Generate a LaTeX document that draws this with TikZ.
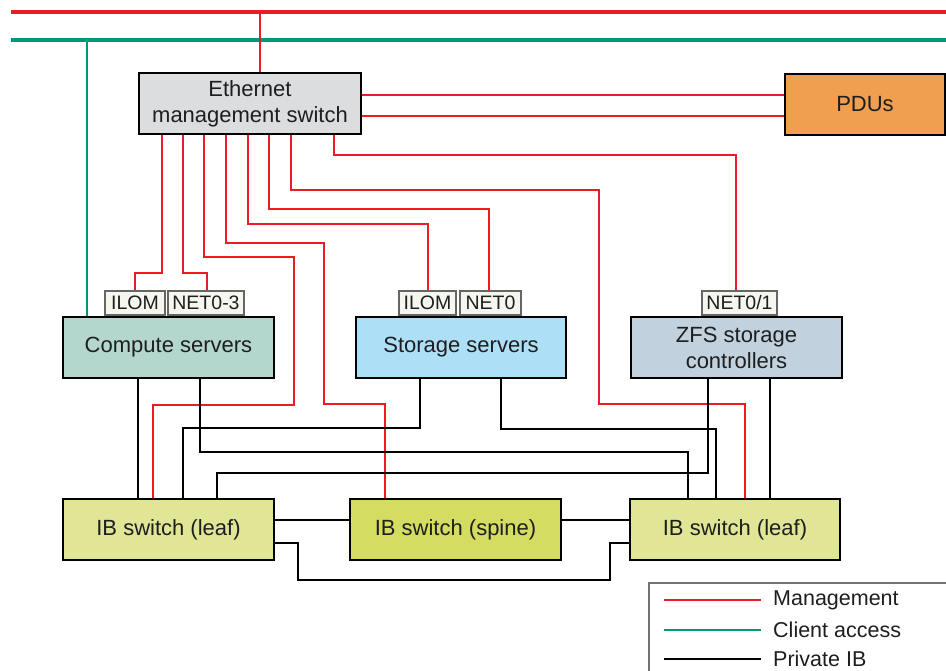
\documentclass[tikz,border=0pt]{standalone}
\usepackage{fontspec}
\setmainfont{Liberation Sans}
\usetikzlibrary{backgrounds}
\definecolor{mred}{HTML}{ED1C24}
\definecolor{mgreen}{HTML}{00967A}
\definecolor{ethfill}{HTML}{DCDDDF}
\definecolor{pdufill}{HTML}{F09E50}
\definecolor{compfill}{HTML}{B3D7CD}
\definecolor{storfill}{HTML}{ADDFF6}
\definecolor{zfsfill}{HTML}{C1D1DE}
\definecolor{leaffill}{HTML}{E0E696}
\definecolor{spinefill}{HTML}{D4DC62}
\definecolor{portfill}{HTML}{F5F7EF}
\definecolor{txt}{HTML}{1E1E1E}
\tikzset{
  box/.style={draw=black, line width=2.8pt, inner sep=0pt, align=center,
    text=txt, font=\fontsize{22}{26}\selectfont, minimum height=61pt},
  port/.style={draw=black!60, line width=1.1pt, fill=portfill, inner sep=0pt,
    text=txt, font=\fontsize{19.5}{22}\selectfont, minimum height=24pt},
  mgmt/.style={draw=mred, line width=2.6pt},
  client/.style={draw=mgreen, line width=2.4pt},
  ib/.style={draw=black, line width=2.6pt},
  bus/.style={line width=4.2pt},
  legtext/.style={anchor=west, text=txt, font=\fontsize{21.5}{24}\selectfont, inner sep=0pt}
}
\begin{document}
\begin{tikzpicture}[x=1pt,y=-1pt]
\path[use as bounding box, clip] (0,0) rectangle (946,670);
% nodes
\node[box, fill=ethfill, minimum width=222pt] (eth) at (250,103.5) {Ethernet\\management switch};
\node[box, fill=pdufill, minimum width=160pt] (pdu) at (865,104.5) {PDUs};
\node[box, fill=compfill, minimum width=211pt] (comp) at (168.5,347.5) {Compute servers};
\node[box, fill=storfill, minimum width=210pt] (stor) at (461,347.5) {Storage servers};
\node[box, fill=zfsfill, minimum width=211pt] (zfs) at (736.5,347.5) {ZFS storage\\controllers};
\node[box, fill=leaffill, minimum width=211pt] (lleaf) at (168.5,529.5) {IB switch (leaf)};
\node[box, fill=spinefill, minimum width=211pt] (spine) at (455.5,529.5) {IB switch (spine)};
\node[box, fill=leaffill, minimum width=210pt] (rleaf) at (735,529.5) {IB switch (leaf)};
% ports
\node[port, minimum width=60pt, anchor=south] (cilom) at (135,315.5) {ILOM};
\node[port, minimum width=76pt, anchor=south] (cnet) at (206,315.5) {NET0-3};
\node[port, minimum width=57pt, anchor=south] (silom) at (427.5,315.5) {ILOM};
\node[port, minimum width=61pt, anchor=south] (snet) at (490.5,315.5) {NET0};
\node[port, minimum width=75pt, anchor=south] (zport) at (739.5,315.5) {NET0/1};
% buses
\coordinate (redL) at (11,12);
\coordinate (redR) at (950,12);
\coordinate (grnL) at (11,40);
\coordinate (grnR) at (950,40);
\coordinate (redtap) at (260,12);
\coordinate (grntap) at (87,40);
\begin{scope}[on background layer]
\draw[mgmt, bus] (redL) -- (redR);
\draw[client, bus] (grnL) -- (grnR);
\draw[mgmt] (redtap) -- (eth.north -| redtap);
\draw[client] (grntap) -- (comp.north -| grntap);
% management
\draw[mgmt] (eth.east |- 0,95) -- (pdu.west |- 0,95);
\draw[mgmt] (eth.east |- 0,116) -- (pdu.west |- 0,116);
\draw[mgmt] (eth.south -| 334,0) |- (736,155) -- (zport.north -| 736,0);
\draw[mgmt] (eth.south -| 291,0) |- (599,190) |- (745,404) -- (rleaf.north -| 745,0);
\draw[mgmt] (eth.south -| 269,0) |- (489,209) -- (snet.north -| 489,0);
\draw[mgmt] (eth.south -| 248,0) |- (428,224) -- (silom.north -| 428,0);
\draw[mgmt] (eth.south -| 226,0) |- (324,243) |- (385,404) -- (spine.north -| 385,0);
\draw[mgmt] (eth.south -| 204,0) |- (294,257) |- (153,405) -- (lleaf.north -| 153,0);
\draw[mgmt] (eth.south -| 183,0) |- (207,273) -- (cnet.north -| 207,0);
\draw[mgmt] (eth.south -| 162,0) |- (135,273) -- (cilom.north -| 135,0);
% private IB
\draw[ib] (comp.south -| 138,0) -- (lleaf.north -| 138,0);
\draw[ib] (comp.south -| 200,0) |- (688,452) -- (rleaf.north -| 688,0);
\draw[ib] (stor.south -| 420,0) |- (183,428) -- (lleaf.north -| 183,0);
\draw[ib] (stor.south -| 501,0) |- (716,429) -- (rleaf.north -| 716,0);
\draw[ib] (zfs.south -| 708,0) |- (217,473) -- (lleaf.north -| 217,0);
\draw[ib] (zfs.south -| 770,0) -- (rleaf.north -| 770,0);
\draw[ib] (lleaf.east |- 0,520) -- (spine.west |- 0,520);
\draw[ib] (spine.east |- 0,520) -- (rleaf.west |- 0,520);
\draw[ib] (lleaf.east |- 0,543) -| (298,580) -| (610,543) -- (rleaf.west |- 0,543);
\end{scope}
% legend
\draw[draw=black!55, line width=1.1pt] (649,583) rectangle (960,700);
\coordinate (l1a) at (664,600); \coordinate (l1b) at (761,600);
\coordinate (l2a) at (664,630); \coordinate (l2b) at (761,630);
\coordinate (l3a) at (664,659); \coordinate (l3b) at (761,659);
\draw[mgmt] (l1a) -- (l1b);
\draw[client] (l2a) -- (l2b);
\draw[ib] (l3a) -- (l3b);
\node[legtext] (t1) at (773,600) {Management};
\node[legtext] (t2) at (773,630) {Client access};
\node[legtext] (t3) at (773,659) {Private IB};
\end{tikzpicture}
\end{document}
